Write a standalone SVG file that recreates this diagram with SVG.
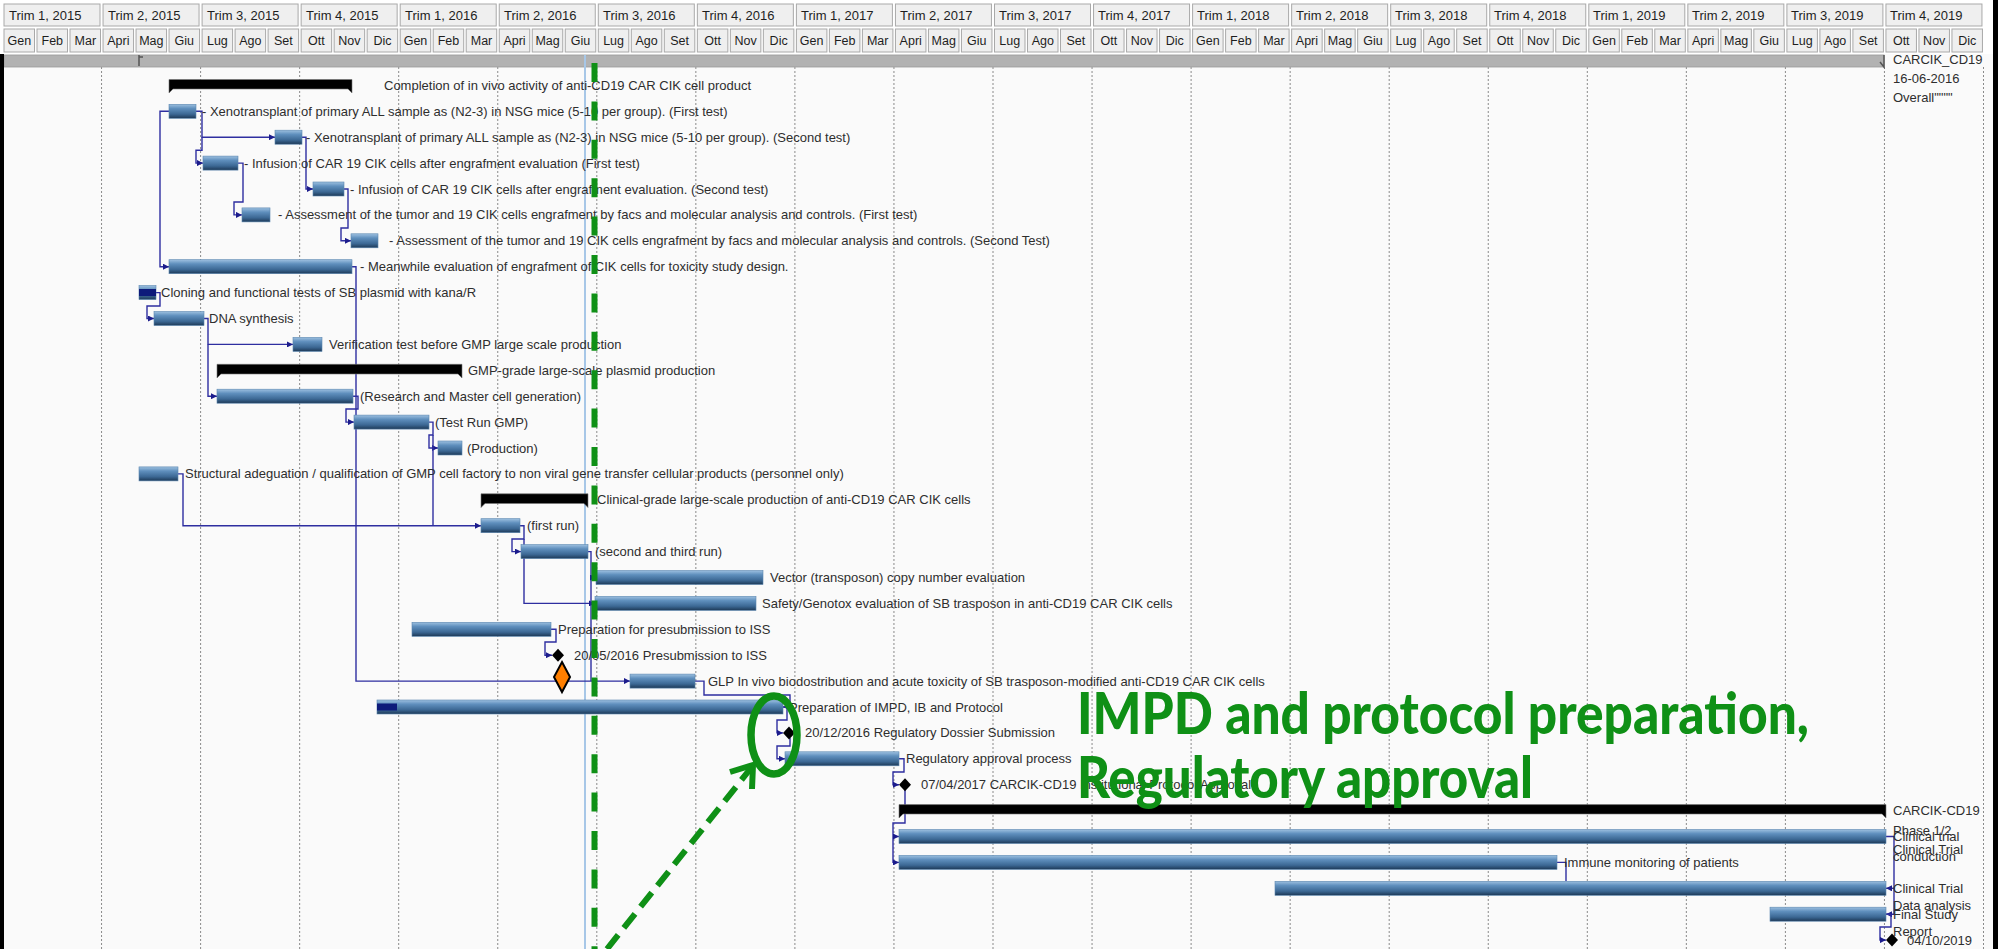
<svg xmlns="http://www.w3.org/2000/svg" xmlns:xlink="http://www.w3.org/1999/xlink" width="1998" height="949" viewBox="0 0 1998 949">
  <style>
    .qcell { fill:#efefef; stroke:#a9a9a9; stroke-width:1; }
    .mcell { fill:#efefef; stroke:#a9a9a9; stroke-width:1; }
    .qtxt { font-family:"Liberation Sans", Arial, sans-serif; font-size:13px; fill:#1e1e1e; }
    .mtxt { font-family:"Liberation Sans", Arial, sans-serif; font-size:12.5px; fill:#1e1e1e; text-anchor:middle; }
    .grid { stroke:#8a8a8a; stroke-width:1; stroke-dasharray:2,2; }
    .bar { fill:url(#barGrad); stroke:#5a86b0; stroke-width:0.6; }
    .prog { fill:#0d1a7a; }
    .sum { fill:#000; stroke:#777; stroke-width:0.6; }
    .ms { fill:#000; }
    .lbl { font-family:"Liberation Sans", Arial, sans-serif; font-size:13px; fill:#2e2e2e; }
    .lnk { fill:none; stroke:#2e2ea0; stroke-width:1.4; }
    .big { font-family:Lato, "Open Sans", sans-serif; font-weight:900; font-size:57px; fill:#0f9016; }
  </style>
  <defs>
    <linearGradient id="barGrad" x1="0" y1="0" x2="0" y2="1">
      <stop offset="0" stop-color="#9dc0e0"/>
      <stop offset="0.3" stop-color="#5f8fbd"/>
      <stop offset="0.7" stop-color="#3c6894"/>
      <stop offset="1" stop-color="#1d3957"/>
    </linearGradient>
    <marker id="arr" viewBox="0 0 6 6" refX="6" refY="3" markerWidth="6" markerHeight="6" markerUnits="userSpaceOnUse" orient="auto">
      <path d="M0,0 L6,3 L0,6 z" fill="#1c1c8c"/>
    </marker>
    <!-- month cells for each quarter type -->
    <g id="mq1">
      <rect class="mcell" x="1.5" y="29" width="30.5" height="23"/><text class="mtxt" x="16.8" y="45">Gen</text>
      <rect class="mcell" x="34.5" y="29" width="30.5" height="23"/><text class="mtxt" x="49.8" y="45">Feb</text>
      <rect class="mcell" x="67.5" y="29" width="30.5" height="23"/><text class="mtxt" x="82.8" y="45">Mar</text>
    </g>
    <g id="mq2">
      <rect class="mcell" x="1.5" y="29" width="30.5" height="23"/><text class="mtxt" x="16.8" y="45">Apri</text>
      <rect class="mcell" x="34.5" y="29" width="30.5" height="23"/><text class="mtxt" x="49.8" y="45">Mag</text>
      <rect class="mcell" x="67.5" y="29" width="30.5" height="23"/><text class="mtxt" x="82.8" y="45">Giu</text>
    </g>
    <g id="mq3">
      <rect class="mcell" x="1.5" y="29" width="30.5" height="23"/><text class="mtxt" x="16.8" y="45">Lug</text>
      <rect class="mcell" x="34.5" y="29" width="30.5" height="23"/><text class="mtxt" x="49.8" y="45">Ago</text>
      <rect class="mcell" x="67.5" y="29" width="30.5" height="23"/><text class="mtxt" x="82.8" y="45">Set</text>
    </g>
    <g id="mq4">
      <rect class="mcell" x="1.5" y="29" width="30.5" height="23"/><text class="mtxt" x="16.8" y="45">Ott</text>
      <rect class="mcell" x="34.5" y="29" width="30.5" height="23"/><text class="mtxt" x="49.8" y="45">Nov</text>
      <rect class="mcell" x="67.5" y="29" width="30.5" height="23"/><text class="mtxt" x="82.8" y="45">Dic</text>
    </g>
    <rect id="qc" class="qcell" x="1.5" y="4" width="96" height="22"/>
  </defs>

  <!-- background -->
  <rect x="0" y="0" width="1998" height="949" fill="#ffffff"/>
  <rect x="4" y="54" width="1989" height="895" fill="#fafafa"/>

  <!-- timescale header -->
  <g id="timescale">
    <use xlink:href="#qc" x="2.5"/><text class="qtxt" x="9" y="20">Trim 1, 2015</text>
    <use xlink:href="#qc" x="101.55"/><text class="qtxt" x="108" y="20">Trim 2, 2015</text>
    <use xlink:href="#qc" x="200.6"/><text class="qtxt" x="207" y="20">Trim 3, 2015</text>
    <use xlink:href="#qc" x="299.65"/><text class="qtxt" x="306" y="20">Trim 4, 2015</text>
    <use xlink:href="#qc" x="398.7"/><text class="qtxt" x="405" y="20">Trim 1, 2016</text>
    <use xlink:href="#qc" x="497.75"/><text class="qtxt" x="504" y="20">Trim 2, 2016</text>
    <use xlink:href="#qc" x="596.8"/><text class="qtxt" x="603" y="20">Trim 3, 2016</text>
    <use xlink:href="#qc" x="695.85"/><text class="qtxt" x="702" y="20">Trim 4, 2016</text>
    <use xlink:href="#qc" x="794.9"/><text class="qtxt" x="801" y="20">Trim 1, 2017</text>
    <use xlink:href="#qc" x="893.95"/><text class="qtxt" x="900" y="20">Trim 2, 2017</text>
    <use xlink:href="#qc" x="993"/><text class="qtxt" x="999" y="20">Trim 3, 2017</text>
    <use xlink:href="#qc" x="1092.05"/><text class="qtxt" x="1098" y="20">Trim 4, 2017</text>
    <use xlink:href="#qc" x="1191.1"/><text class="qtxt" x="1197" y="20">Trim 1, 2018</text>
    <use xlink:href="#qc" x="1290.15"/><text class="qtxt" x="1296" y="20">Trim 2, 2018</text>
    <use xlink:href="#qc" x="1389.2"/><text class="qtxt" x="1395" y="20">Trim 3, 2018</text>
    <use xlink:href="#qc" x="1488.25"/><text class="qtxt" x="1494" y="20">Trim 4, 2018</text>
    <use xlink:href="#qc" x="1587.3"/><text class="qtxt" x="1593" y="20">Trim 1, 2019</text>
    <use xlink:href="#qc" x="1686.35"/><text class="qtxt" x="1692" y="20">Trim 2, 2019</text>
    <use xlink:href="#qc" x="1785.4"/><text class="qtxt" x="1791" y="20">Trim 3, 2019</text>
    <use xlink:href="#qc" x="1884.45"/><text class="qtxt" x="1890" y="20">Trim 4, 2019</text>

    <use xlink:href="#mq1" x="2.5"/><use xlink:href="#mq2" x="101.55"/><use xlink:href="#mq3" x="200.6"/><use xlink:href="#mq4" x="299.65"/>
    <use xlink:href="#mq1" x="398.7"/><use xlink:href="#mq2" x="497.75"/><use xlink:href="#mq3" x="596.8"/><use xlink:href="#mq4" x="695.85"/>
    <use xlink:href="#mq1" x="794.9"/><use xlink:href="#mq2" x="893.95"/><use xlink:href="#mq3" x="993"/><use xlink:href="#mq4" x="1092.05"/>
    <use xlink:href="#mq1" x="1191.1"/><use xlink:href="#mq2" x="1290.15"/><use xlink:href="#mq3" x="1389.2"/><use xlink:href="#mq4" x="1488.25"/>
    <use xlink:href="#mq1" x="1587.3"/><use xlink:href="#mq2" x="1686.35"/><use xlink:href="#mq3" x="1785.4"/><use xlink:href="#mq4" x="1884.45"/>
  </g>

  <!-- quarter grid lines -->
  <g id="gridlines">
    <line class="grid" x1="101.55" y1="67" x2="101.55" y2="949"/>
    <line class="grid" x1="200.6" y1="67" x2="200.6" y2="949"/>
    <line class="grid" x1="299.65" y1="67" x2="299.65" y2="949"/>
    <line class="grid" x1="398.7" y1="67" x2="398.7" y2="949"/>
    <line class="grid" x1="497.75" y1="67" x2="497.75" y2="949"/>
    <line class="grid" x1="596.8" y1="67" x2="596.8" y2="949"/>
    <line class="grid" x1="695.85" y1="67" x2="695.85" y2="949"/>
    <line class="grid" x1="794.9" y1="67" x2="794.9" y2="949"/>
    <line class="grid" x1="893.95" y1="67" x2="893.95" y2="949"/>
    <line class="grid" x1="993" y1="67" x2="993" y2="949"/>
    <line class="grid" x1="1092.05" y1="67" x2="1092.05" y2="949"/>
    <line class="grid" x1="1191.1" y1="67" x2="1191.1" y2="949"/>
    <line class="grid" x1="1290.15" y1="67" x2="1290.15" y2="949"/>
    <line class="grid" x1="1389.2" y1="67" x2="1389.2" y2="949"/>
    <line class="grid" x1="1488.25" y1="67" x2="1488.25" y2="949"/>
    <line class="grid" x1="1587.3" y1="67" x2="1587.3" y2="949"/>
    <line class="grid" x1="1686.35" y1="67" x2="1686.35" y2="949"/>
    <line class="grid" x1="1785.4" y1="67" x2="1785.4" y2="949"/>
    <line class="grid" x1="1884.45" y1="67" x2="1884.45" y2="949"/>
    <line class="grid" x1="1983.5" y1="67" x2="1983.5" y2="949"/>
  </g>

  <!-- project summary band -->
  <g id="project-summary">
    <rect x="4" y="55" width="1880" height="12" fill="#b2b2b2" stroke="#9a9a9a" stroke-width="0.8"/>
    <path d="M139,55 V66 M139,57 H143" stroke="#555" stroke-width="1.5" fill="none"/>
    <path d="M1884,55 V67 L1880,62" stroke="#555" stroke-width="1.5" fill="none"/>
    <text class="lbl" x="1893" y="63.5">CARCIK_CD19</text>
    <text class="lbl" x="1893" y="82.5">16-06-2016</text>
    <text class="lbl" x="1893" y="101.5">Overall""""</text>
  </g>

  <!-- status date line -->
  <line x1="585" y1="55" x2="585" y2="949" stroke="#a7c7e7" stroke-width="2"/>

  <!-- links between tasks -->
  <g id="connectors">
    <path class="lnk" d="M169,111.3 H160 V266.7 H169" marker-end="url(#arr)"/>
    <path class="lnk" d="M196,111.3 H202 V137.2 H275" marker-end="url(#arr)"/>
    <path class="lnk" d="M202,137.2 V150.2 H196 V163.1 H203" marker-end="url(#arr)"/>
    <path class="lnk" d="M302,137.2 H306 V189 H313" marker-end="url(#arr)"/>
    <path class="lnk" d="M238,163.1 H243 V202 H234 V214.9 H242" marker-end="url(#arr)"/>
    <path class="lnk" d="M344,189 H348 V228 H341 V240.8 H351" marker-end="url(#arr)"/>
    <path class="lnk" d="M352,266.7 H356 V681.1 H630" marker-end="url(#arr)"/>
    <path class="lnk" d="M156,292.6 H160 V306 H147 V318.5 H154" marker-end="url(#arr)"/>
    <path class="lnk" d="M204,318.5 H208 V344.4 H293" marker-end="url(#arr)"/>
    <path class="lnk" d="M208,344.4 V396.2 H217" marker-end="url(#arr)"/>
    <path class="lnk" d="M353,396.2 H358 V409 H346 V422.1 H354" marker-end="url(#arr)"/>
    <path class="lnk" d="M429,422.1 H433 V435 H429 V448 H438" marker-end="url(#arr)"/>
    <path class="lnk" d="M433,435 V525.7"/>
    <path class="lnk" d="M178,473.9 H183 V525.7 H481" marker-end="url(#arr)"/>
    <path class="lnk" d="M520,525.7 H524 V539 H512 V551.6 H521" marker-end="url(#arr)"/>
    <path class="lnk" d="M524,539 V603.4 H595" marker-end="url(#arr)"/>
    <path class="lnk" d="M588,551.6 H591 V681.1"/>
    <path class="lnk" d="M591,577.5 H596" marker-end="url(#arr)"/>
    <path class="lnk" d="M551,629.3 H556 V642 H545 V655.2 H552" marker-end="url(#arr)"/>
    <path class="lnk" d="M695,681.1 H704 V695 H790 V707 H783" marker-end="url(#arr)"/>
    <path class="lnk" d="M783,707 H787 V720 H777 V732.9 H783" marker-end="url(#arr)"/>
    <path class="lnk" d="M790,738 V746 H777 V758.8 H785" marker-end="url(#arr)"/>
    <path class="lnk" d="M899,758.8 H904 V772 H893 V784.7 H899" marker-end="url(#arr)"/>
    <path class="lnk" d="M905,790 V823 H893 V862.4 H899" marker-end="url(#arr)"/>
    <path class="lnk" d="M893,836.5 H899" marker-end="url(#arr)"/>
    <path class="lnk" d="M1886,836.5 H1894 V914.2 H1886" marker-end="url(#arr)"/>
    <path class="lnk" d="M1894,888.3 H1886" marker-end="url(#arr)"/>
    <path class="lnk" d="M1886,914.2 H1891 V927 H1880 V940.1 H1886" marker-end="url(#arr)"/>
    <path class="lnk" d="M1557,862.4 H1566 V881"/>
  </g>

  <!-- tasks -->
  <g id="t01"><path class="sum" d="M169,79.5 H352 V93 L348,89 H173 L169,93 Z"/><text class="lbl" x="384" y="90">Completion of in vivo activity of anti-CD19 CAR CIK cell product</text></g>
  <g id="t02"><rect class="bar" x="169" y="104.3" width="27" height="14"/><text class="lbl" x="202" y="115.8">- Xenotransplant of primary ALL sample as (N2-3) in NSG mice (5-10 per group). (First test)</text></g>
  <g id="t03"><rect class="bar" x="275" y="130.2" width="27" height="14"/><text class="lbl" x="306" y="141.7">- Xenotransplant of primary ALL sample as (N2-3) in NSG mice (5-10 per group). (Second test)</text></g>
  <g id="t04"><rect class="bar" x="203" y="156.1" width="35" height="14"/><text class="lbl" x="244" y="167.6">- Infusion of CAR 19 CIK cells after engrafment evaluation  (First test)</text></g>
  <g id="t05"><rect class="bar" x="313" y="182" width="31" height="14"/><text class="lbl" x="350" y="193.5">- Infusion of CAR 19 CIK cells after engrafment evaluation. (Second test)</text></g>
  <g id="t06"><rect class="bar" x="242" y="207.9" width="28" height="14"/><text class="lbl" x="278" y="219.4">- Assessment of the tumor and 19 CIK cells engrafment by facs and molecular analysis and controls. (First test)</text></g>
  <g id="t07"><rect class="bar" x="351" y="233.8" width="27" height="14"/><text class="lbl" x="389" y="245.3">- Assessment of the tumor and 19 CIK cells engrafment by facs and molecular analysis and controls. (Second Test)</text></g>
  <g id="t08"><rect class="bar" x="169" y="259.7" width="183" height="14"/><text class="lbl" x="360" y="271.2">- Meanwhile evaluation of engrafment of CIK cells for toxicity study design.</text></g>
  <g id="t09"><rect class="bar" x="139" y="285.6" width="17" height="14"/><rect class="prog" x="139" y="289" width="17" height="7"/><text class="lbl" x="161" y="297.1">Cloning and functional tests of SB plasmid with kana/R</text></g>
  <g id="t10"><rect class="bar" x="154" y="311.5" width="50" height="14"/><text class="lbl" x="209" y="323">DNA synthesis</text></g>
  <g id="t11"><rect class="bar" x="293" y="337.4" width="29" height="14"/><text class="lbl" x="329" y="348.9">Verification test before GMP large scale production</text></g>
  <g id="t12"><path class="sum" d="M217,364.3 H462 V378 L458,374 H221 L217,378 Z"/><text class="lbl" x="468" y="374.8">GMP-grade large-scale plasmid production</text></g>
  <g id="t13"><rect class="bar" x="217" y="389.2" width="136" height="14"/><text class="lbl" x="360" y="400.7">(Research and Master cell generation)</text></g>
  <g id="t14"><rect class="bar" x="354" y="415.1" width="75" height="14"/><text class="lbl" x="435" y="426.6">(Test Run GMP)</text></g>
  <g id="t15"><rect class="bar" x="438" y="441" width="24" height="14"/><text class="lbl" x="467" y="452.5">(Production)</text></g>
  <g id="t16"><rect class="bar" x="139" y="466.9" width="39" height="14"/><text class="lbl" x="185" y="478.4">Structural adeguation / qualification of GMP cell factory to non viral gene transfer cellular products (personnel only)</text></g>
  <g id="t17"><path class="sum" d="M481,493.8 H588 V507.5 L584,503.5 H485 L481,507.5 Z"/><text class="lbl" x="597" y="504.3">Clinical-grade large-scale production of anti-CD19 CAR CIK cells</text></g>
  <g id="t18"><rect class="bar" x="481" y="518.7" width="39" height="14"/><text class="lbl" x="527" y="530.2">(first run)</text></g>
  <g id="t19"><rect class="bar" x="521" y="544.6" width="67" height="14"/><text class="lbl" x="595" y="556.1">(second and third run)</text></g>
  <g id="t20"><rect class="bar" x="596" y="570.5" width="167" height="14"/><text class="lbl" x="770" y="582">Vector (transposon) copy number evaluation</text></g>
  <g id="t21"><rect class="bar" x="595" y="596.4" width="161" height="14"/><text class="lbl" x="762" y="607.9">Safety/Genotox evaluation of SB trasposon in anti-CD19 CAR CIK cells</text></g>
  <g id="t22"><rect class="bar" x="412" y="622.3" width="139" height="14"/><text class="lbl" x="558" y="633.8">Preparation for presubmission to ISS</text></g>
  <g id="t23"><path class="ms" d="M558,648.7 L564,655.2 L558,661.7 L552,655.2 Z"/><path d="M562,662 L570,677 L562,692 L554,677 Z" fill="#ff7f00" stroke="#000" stroke-width="2"/><text class="lbl" x="574" y="659.7">20/05/2016 Presubmission to ISS</text></g>
  <g id="t24"><rect class="bar" x="630" y="674.1" width="65" height="14"/><text class="lbl" x="708" y="685.6">GLP In vivo biodostribution and acute toxicity of SB trasposon-modified anti-CD19 CAR CIK cells</text></g>
  <g id="t25"><rect class="bar" x="377" y="700" width="406" height="14"/><rect class="prog" x="377" y="703.5" width="20" height="7"/><text class="lbl" x="789" y="711.5">Preparation of IMPD, IB and Protocol</text></g>
  <g id="t26"><path class="ms" d="M789,726.4 L795,732.9 L789,739.4 L783,732.9 Z"/><text class="lbl" x="805" y="737.4">20/12/2016 Regulatory Dossier Submission</text></g>
  <g id="t27"><rect class="bar" x="785" y="751.8" width="114" height="14"/><text class="lbl" x="906" y="763.3">Regulatory approval process</text></g>
  <g id="t28"><path class="ms" d="M905,778.2 L911,784.7 L905,791.2 L899,784.7 Z"/><text class="lbl" x="921" y="789.2">07/04/2017 CARCIK-CD19 Institutional Protocol Approval</text></g>
  <g id="t29"><path class="sum" d="M899,804.6 H1886 V818 L1882,814 H903 L899,818 Z"/><text class="lbl" x="1893" y="815.1">CARCIK-CD19</text><text class="lbl" x="1893" y="834.6">Phase 1/2</text><text class="lbl" x="1893" y="854.1">Clinical Trial</text></g>
  <g id="t30"><rect class="bar" x="899" y="829.5" width="987" height="14"/><text class="lbl" x="1893" y="841">Clinical trial</text><text class="lbl" x="1893" y="860.5">conduction</text></g>
  <g id="t31"><rect class="bar" x="899" y="855.4" width="658" height="14"/><text class="lbl" x="1564" y="866.9">Immune monitoring of patients</text></g>
  <g id="t32"><rect class="bar" x="1275" y="881.3" width="611" height="14"/><text class="lbl" x="1893" y="892.8">Clinical Trial</text><text class="lbl" x="1893" y="910">Data analysis</text></g>
  <g id="t33"><rect class="bar" x="1770" y="907.2" width="116" height="14"/><text class="lbl" x="1893" y="918.7">Final Study</text><text class="lbl" x="1893" y="936">Report</text></g>
  <g id="t34"><path class="ms" d="M1892,933.6 L1898,940.1 L1892,946.6 L1886,940.1 Z"/><text class="lbl" x="1907" y="944.6">04/10/2019</text></g>

  <!-- highlight annotations -->
  <g id="highlights">
    <line x1="594.5" y1="63" x2="594.5" y2="949" stroke="#0f9016" stroke-width="6" stroke-dasharray="19,19.4"/>
    <ellipse cx="774" cy="735" rx="23" ry="39" fill="none" stroke="#0f9016" stroke-width="7.5"/>
    <line x1="607" y1="949" x2="751" y2="768" stroke="#0f9016" stroke-width="6" stroke-dasharray="18,9"/>
    <polyline points="730,772 753,765 752,789" fill="none" stroke="#0f9016" stroke-width="6"/>
    <text class="big" x="1077" y="734" textLength="732" lengthAdjust="spacingAndGlyphs">IMPD and protocol preparation,</text>
    <text class="big" x="1077" y="798" textLength="456" lengthAdjust="spacingAndGlyphs">Regulatory approval</text>
  </g>

  <!-- frame -->
  <rect x="0" y="54" width="4" height="895" fill="#000"/>
  <rect x="1993" y="0" width="5" height="949" fill="#000"/>
</svg>
